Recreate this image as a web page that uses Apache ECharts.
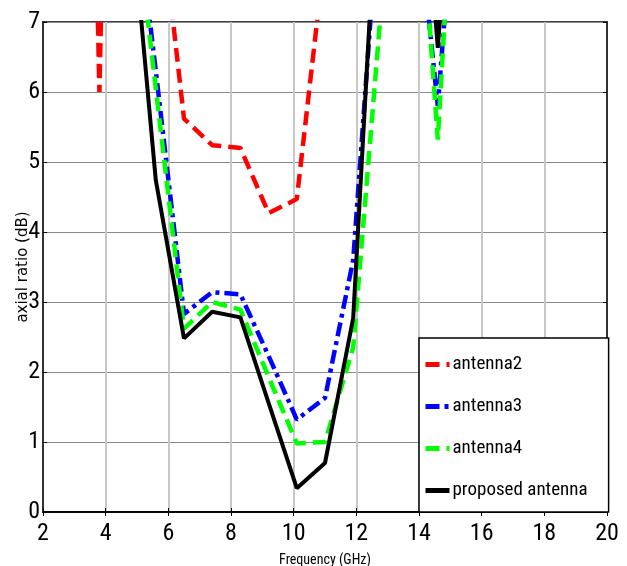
<!DOCTYPE html>
<html>
<head>
<meta charset="utf-8">
<script src="https://cdn.jsdelivr.net/npm/echarts@6/dist/echarts.min.js"></script>
<style>
  html, body { margin: 0; padding: 0; background: #fff; }
  #chart { width: 627px; height: 566px; }
</style>
</head>
<body>
<div id="chart"></div>
<script>
// frequency samples (GHz)
var freq = [2.9, 3.8, 4.7, 5.6, 6.5, 7.4, 8.3, 9.2, 10.1, 11.0, 11.9, 12.8, 13.7, 14.6, 15.5];

// axial ratio (dB), values above 7 are off the plot
var antenna2 = [25, 6.0, 25, 9.2, 5.62, 5.24, 5.2, 4.27, 4.47, 8.0, null, null, null, null, null];
var antenna3 = [null, null, 9.7, 6.3, 2.83, 3.14, 3.11, 2.23, 1.32, 1.63, 3.6, 9.2, 9.7, 5.8, 11];
var antenna4 = [null, null, 9.5, 6.05, 2.62, 3.0, 2.89, 1.93, 0.98, 1.0, 2.35, 7.25, 10.9, 5.32, 12.4];
var proposed = [null, null, 9.16, 4.74, 2.48, 2.86, 2.78, 1.56, 0.34, 0.7, 2.77, 10.1, 11.8, 6.63, 12];

var seriesNames = ['antenna2', 'antenna3', 'antenna4', 'proposed antenna'];

function pairs(vals) {
  var out = [];
  for (var i = 0; i < freq.length; i++) {
    out.push([freq[i], vals[i]]);
  }
  return out;
}

var narrow = '"Liberation Sans Narrow", "Roboto Condensed", "DejaVu Sans Condensed", Roboto, sans-serif';

var chart = echarts.init(document.getElementById('chart'), null, { renderer: 'canvas' });

var option = {
  animation: false,
  backgroundColor: '#fff',
  grid: {
    left: 43, top: 22, right: 20, bottom: 54,
    containLabel: false,
    outerBoundsMode: 'none',
    show: true,
    borderColor: '#000',
    borderWidth: 1.5
  },
  legend: {
    orient: 'vertical',
    left: 419,
    top: 338,
    backgroundColor: '#fff',
    borderColor: '#000',
    borderWidth: 1.5,
    borderRadius: 0,
    padding: [17, 21, 12, 4],
    itemWidth: 24,
    itemHeight: 14,
    itemGap: 23,
    itemStyle: { opacity: 0 },
    lineStyle: { width: 5 },
    textStyle: { fontFamily: narrow, fontSize: 19, color: '#000', padding: [0, 0, 0, -2] },
    data: seriesNames
  },
  xAxis: [{
    type: 'value',
    min: 2, max: 20, interval: 2,
    name: 'Frequency (GHz)',
    nameLocation: 'middle',
    nameGap: 41,
    nameMoveOverlap: false,
    nameTextStyle: { fontFamily: narrow, fontSize: 14, color: '#000' },
    axisLine: { show: true, lineStyle: { color: '#000', width: 1.5 } },
    axisTick: { show: true, inside: true, length: 4, lineStyle: { color: '#000' } },
    axisLabel: { fontFamily: narrow, fontSize: 24, color: '#000', margin: 10 },
    splitLine: { show: true, lineStyle: { color: '#c8c8c8', width: 2 } }
  }, {
    type: 'value',
    position: 'top',
    min: 2, max: 20, interval: 2,
    axisLine: { show: true, lineStyle: { color: '#000', width: 1.5 } },
    axisTick: { show: true, inside: true, length: 4, lineStyle: { color: '#000' } },
    axisLabel: { show: false },
    splitLine: { show: false }
  }],
  yAxis: [{
    type: 'value',
    min: 0, max: 7, interval: 1,
    name: 'axial ratio (dB)',
    nameLocation: 'middle',
    nameGap: 12,
    nameMoveOverlap: false,
    nameTextStyle: { fontFamily: '"DejaVu Sans", sans-serif', fontSize: 15, color: '#000' },
    axisLine: { show: true, lineStyle: { color: '#000', width: 1.5 } },
    axisTick: { show: true, inside: true, length: 4, lineStyle: { color: '#000' } },
    axisLabel: { fontFamily: narrow, fontSize: 24, color: '#000', margin: 3 },
    splitLine: { show: true, lineStyle: { color: '#8a8a8a', width: 1 } }
  }, {
    type: 'value',
    position: 'right',
    min: 0, max: 7, interval: 1,
    axisLine: { show: true, lineStyle: { color: '#000', width: 1.5 } },
    axisTick: { show: true, inside: true, length: 4, lineStyle: { color: '#000' } },
    axisLabel: { show: false },
    splitLine: { show: false }
  }],
  series: [{
    name: 'antenna2',
    type: 'line',
    symbol: 'none',
    clip: true,
    data: pairs(antenna2),
    color: '#ff0000',
    lineStyle: { color: '#ff0000', width: 4.5, type: [14, 7] }
  }, {
    name: 'antenna3',
    type: 'line',
    symbol: 'none',
    clip: true,
    data: pairs(antenna3),
    color: '#0000ff',
    lineStyle: { color: '#0000ff', width: 4.5, type: [14, 5, 4, 5] }
  }, {
    name: 'antenna4',
    type: 'line',
    symbol: 'none',
    clip: true,
    data: pairs(antenna4),
    color: '#00ff00',
    lineStyle: { color: '#00ff00', width: 4.5, type: [14, 7] }
  }, {
    name: 'proposed antenna',
    type: 'line',
    symbol: 'none',
    clip: true,
    data: pairs(proposed),
    color: '#000000',
    lineStyle: { color: '#000000', width: 4, type: 'solid' }
  }]
};

chart.setOption(option);
</script>
</body>
</html>
